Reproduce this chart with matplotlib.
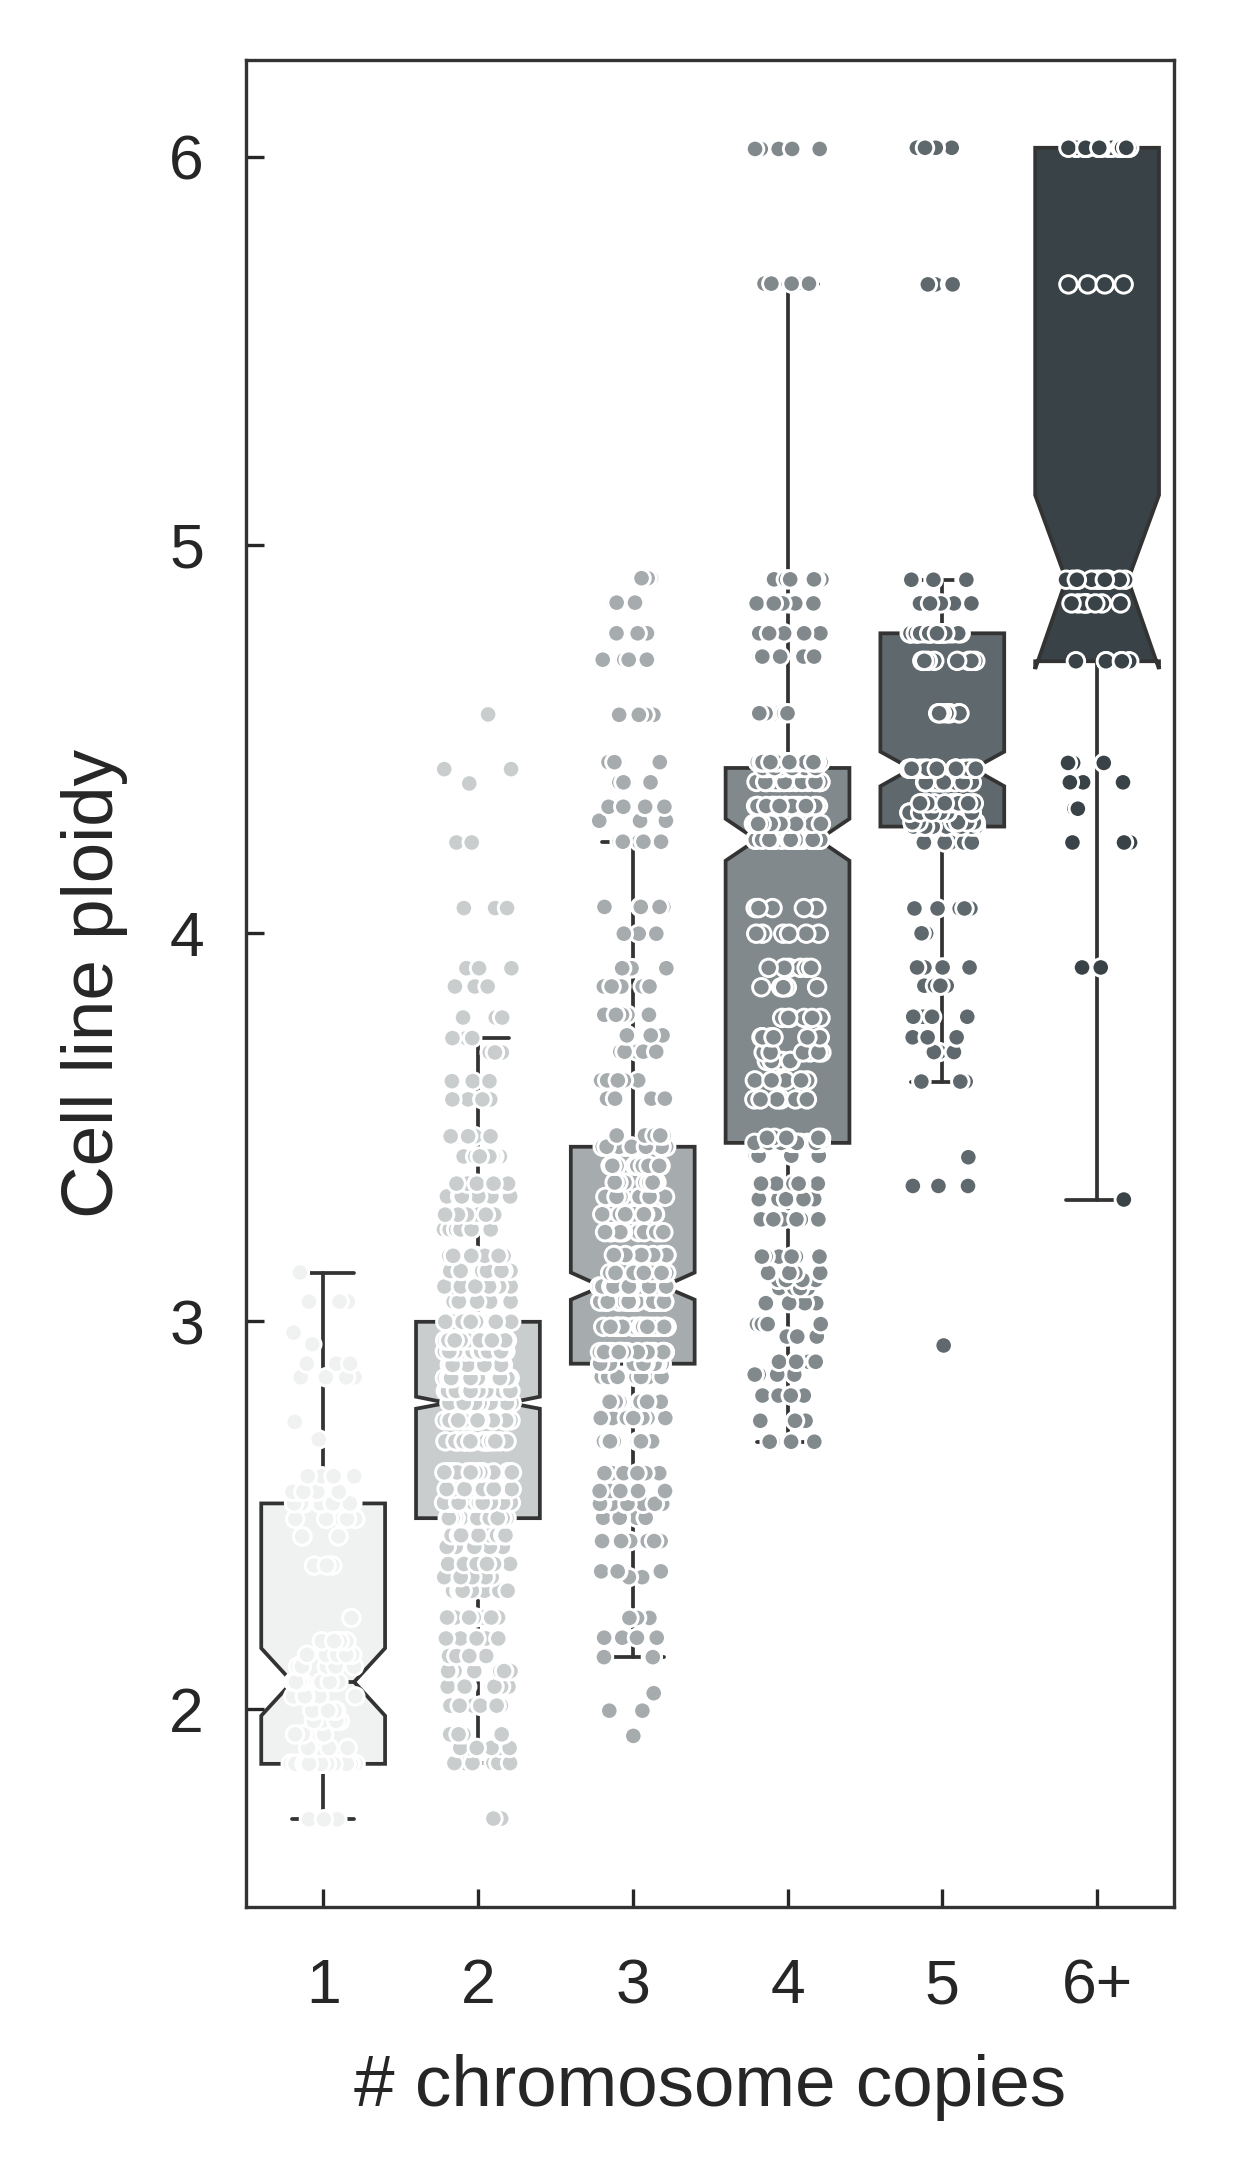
import numpy as np
import pandas as pd
import matplotlib
matplotlib.use('Agg')
import matplotlib.pyplot as plt
import seaborn as sns

categories = ['1', '2', '3', '4', '5', '6+']
colors = ['#f0f2f1', '#c9cdce', '#a6abad', '#81898c', '#5f686c', '#394347']

# ploidy levels (rows of points) and number of cell lines on each level
c1_vals = [1.716, 1.859, 1.90, 1.935, 1.97, 1.996, 2.033, 2.07, 2.11, 2.14, 2.175, 2.235, 2.37,
           2.445, 2.49, 2.53, 2.56, 2.60, 2.695, 2.74, 2.855, 2.89, 2.94, 2.97, 3.05, 3.125]
c1_counts = [4, 40, 5, 5, 5, 5, 6, 10, 5, 5, 5, 1, 3,
             3, 5, 10, 5, 5, 1, 3, 4, 3, 1, 1, 3, 1]

c2_vals = [1.718, 1.861, 1.90, 1.935, 2.009, 2.058, 2.098, 2.137, 2.182, 2.236, 2.305, 2.34, 2.374,
           2.418, 2.448, 2.492, 2.532, 2.567, 2.61, 2.69, 2.744, 2.789, 2.82, 2.853, 2.887, 2.922,
           2.95, 2.998, 3.05, 3.089, 3.129, 3.168, 3.236, 3.274, 3.321, 3.354, 3.424, 3.476, 3.571,
           3.618, 3.692, 3.729, 3.782, 3.862, 3.909, 4.064, 4.233, 4.385, 4.422, 4.563]
c2_counts = [3, 10, 7, 7, 9, 10, 10, 10, 10, 10, 8, 8, 8,
             8, 10, 28, 20, 20, 20, 20, 20, 20, 20, 20, 20, 20,
             20, 21, 10, 10, 10, 10, 8, 8, 8, 8, 8, 8, 4,
             4, 4, 5, 3, 3, 4, 3, 2, 1, 2, 1]

c3_vals = [1.931, 1.996, 2.041, 2.134, 2.184, 2.235, 2.34, 2.355, 2.433, 2.493, 2.529, 2.562, 2.608,
           2.69, 2.75, 2.792, 2.856, 2.89, 2.92, 2.985, 3.05, 3.089, 3.124, 3.17, 3.229, 3.275,
           3.32, 3.357, 3.40, 3.449, 3.478, 3.573, 3.62, 3.694, 3.736, 3.789, 3.862, 3.909, 3.998,
           4.067, 4.235, 4.289, 4.325, 4.388, 4.44, 4.562, 4.704, 4.772, 4.851, 4.914]
c3_counts = [1, 2, 1, 3, 4, 3, 2, 4, 6, 8, 8, 8, 9,
             10, 10, 10, 11, 20, 25, 25, 25, 25, 14, 12, 12, 11,
             11, 11, 10, 20, 5, 5, 5, 6, 5, 5, 5, 5, 5,
             5, 5, 6, 5, 5, 6, 5, 5, 5, 3, 4]

c4_vals = [2.689, 2.743, 2.808, 2.862, 2.895, 2.96, 2.992, 3.046, 3.085, 3.106, 3.124, 3.166, 3.262,
           3.314, 3.354, 3.426, 3.459, 3.472, 3.571, 3.62, 3.67, 3.692, 3.731, 3.781, 3.86, 3.91,
           3.998, 4.064, 4.24, 4.281, 4.327, 4.389, 4.425, 4.44, 4.566, 4.712, 4.772, 4.849, 4.911,
           5.673, 6.02]
c4_counts = [4, 4, 5, 4, 5, 4, 5, 6, 5, 6, 5, 6, 7,
             7, 7, 6, 20, 6, 6, 6, 6, 6, 6, 6, 6, 6,
             6, 6, 25, 20, 21, 21, 20, 40, 7, 7, 7, 7, 7,
             5, 6]

c5_vals = [2.937, 3.348, 3.422, 3.617, 3.693, 3.731, 3.784, 3.864, 3.911, 3.999, 4.063, 4.233, 4.274,
           4.285, 4.31, 4.334, 4.388, 4.423, 4.566, 4.701, 4.772, 4.849, 4.91, 5.671, 6.023]
c5_counts = [1, 3, 1, 3, 5, 4, 5, 4, 5, 4, 5, 5, 10,
             8, 8, 10, 10, 24, 8, 8, 29, 8, 8, 4, 5]

c6_vals = [3.313, 3.911, 4.233, 4.32, 4.388, 4.438, 4.70, 4.849, 4.91, 5.671, 6.023]
c6_counts = [1, 2, 3, 2, 3, 3, 6, 8, 12, 4, 17]

# notch limits
notch_lo = [1.983, 2.774, 3.055, 4.186, 4.378, 4.68]
notch_hi = [2.157, 2.805, 3.125, 4.294, 4.467, 5.128]

all_vals = [c1_vals, c2_vals, c3_vals, c4_vals, c5_vals, c6_vals]
all_counts = [c1_counts, c2_counts, c3_counts, c4_counts, c5_counts, c6_counts]
groups = [np.repeat(v, c) for v, c in zip(all_vals, all_counts)]

df = pd.DataFrame({
    'pos': np.concatenate([[i] * len(g) for i, g in enumerate(groups)]),
    'copies': np.concatenate([[categories[i]] * len(g) for i, g in enumerate(groups)]),
    'ploidy': np.concatenate(groups),
})

sns.set_style('ticks')
plt.rcParams['font.family'] = ['Liberation Sans', 'DejaVu Sans']
np.random.seed(3)

fig, ax = plt.subplots(figsize=(1235 / 300, 2178 / 300), dpi=300)
fig.subplots_adjust(left=0.199, right=0.951, top=0.9726, bottom=0.1244)

line_c = '#333333'
bp = ax.boxplot(groups, positions=range(6), widths=0.8, notch=True,
                conf_intervals=list(zip(notch_lo, notch_hi)), patch_artist=True,
                showfliers=False, whis=1.5, manage_ticks=False, zorder=2,
                boxprops=dict(edgecolor=line_c, linewidth=0.9),
                medianprops=dict(color=line_c, linewidth=0.9),
                whiskerprops=dict(color=line_c, linewidth=0.9),
                capprops=dict(color=line_c, linewidth=0.9))
for patch, col in zip(bp['boxes'], colors):
    patch.set_facecolor(col)

sns.stripplot(data=df, x='pos', y='ploidy', hue='copies', order=list(range(6)),
              hue_order=categories, palette=dict(zip(categories, colors)),
              jitter=0.22, size=4.2, linewidth=0.7, edgecolor='white',
              legend=False, ax=ax, zorder=3)

ax.set_xlim(-0.5, 5.5)
ax.set_ylim(1.49, 6.25)
ax.set_xticks(range(6))
ax.set_xticklabels(categories)
ax.set_yticks([2, 3, 4, 5, 6])
ax.tick_params(direction='in', length=4.3, width=0.8, pad=10, labelsize=15,
               colors='#262626', top=False, right=False)
ax.tick_params(axis='x', pad=12)
for s in ax.spines.values():
    s.set_color(line_c)
    s.set_linewidth(0.8)
ax.set_xlabel('# chromosome copies', fontsize=17.5, labelpad=9, color='#262626')
ax.set_ylabel('Cell line ploidy', fontsize=17.5, labelpad=10, color='#262626')

plt.savefig('out.png', dpi=300)
